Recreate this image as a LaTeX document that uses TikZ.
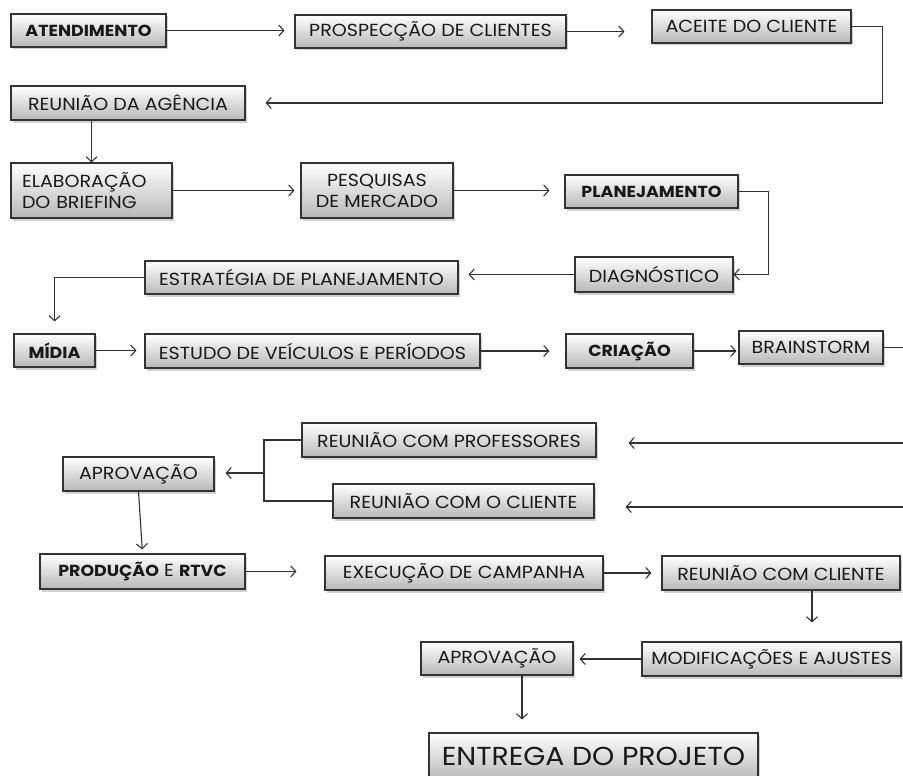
\documentclass[tikz,border=0pt]{standalone}
\usepackage{fontspec}
\setmainfont{Poppins}[FakeStretch=1.09]
\usetikzlibrary{arrows.meta,shadows,calc}
\newcommand\bfx[1]{{\fontsize{16}{21}\selectfont\bfseries #1}}
\begin{document}
\begin{tikzpicture}[x=1pt,y=-1pt,
  box/.style={draw=black!80, line width=1.1pt, top color=white, bottom color=black!28,
    drop shadow={shadow xshift=2pt,shadow yshift=-2.5pt,opacity=0.35},
    inner sep=0pt, font=\fontsize{17.5}{21}\selectfont, text=black!90},
  arr/.style={-{Straight Barb[length=5pt,width=11pt,line width=1.1pt]}, line width=1.1pt, draw=black!80},
  ln/.style={line width=1.1pt, draw=black!80}]
\useasboundingbox (0,0) rectangle (903,776);
\fill[white] (0,0) rectangle (903,776);
% nodes
\node[box, minimum width=155pt, minimum height=33pt] (aten) at (88.5,30.5) {\bfx{ATENDIMENTO}};
\node[box, minimum width=271pt, minimum height=33pt] (prosp) at (430.5,31.5) {PROSPECÇÃO DE CLIENTES};
\node[box, minimum width=199pt, minimum height=33pt] (aceite) at (751.5,26.5) {ACEITE DO CLIENTE};
\node[box, minimum width=234pt, minimum height=34pt] (reun) at (128,103) {REUNIÃO DA AGÊNCIA};
\node[box, minimum width=161pt, minimum height=55pt, align=left, text width=139pt] (elab) at (91.5,190.5) {ELABORAÇÃO\\DO BRIEFING};
\node[box, minimum width=152pt, minimum height=55pt, align=center] (pesq) at (377,190.5) {PESQUISAS\\DE MERCADO};
\node[box, minimum width=173pt, minimum height=33pt] (plan) at (651.5,191.5) {\bfx{PLANEJAMENTO}};
\node[box, minimum width=158pt, minimum height=35pt] (diag) at (654,274.5) {DIAGNÓSTICO};
\node[box, minimum width=313pt, minimum height=33pt] (estr) at (301.5,277.5) {ESTRATÉGIA DE PLANEJAMENTO};
\node[box, minimum width=81pt, minimum height=33pt] (midia) at (54.5,350.5) {\bfx{MÍDIA}};
\node[box, minimum width=335pt, minimum height=34pt] (estudo) at (312.5,351) {ESTUDO DE VEÍCULOS E PERÍODOS};
\node[box, minimum width=127pt, minimum height=34pt] (criacao) at (629.5,351) {\bfx{CRIAÇÃO}};
\node[box, minimum width=144pt, minimum height=33pt] (brain) at (811,347.5) {BRAINSTORM};
\node[box, minimum width=294pt, minimum height=34pt] (rprof) at (449,440) {REUNIÃO COM PROFESSORES};
\node[box, minimum width=261pt, minimum height=34pt] (rcli) at (463.5,501) {REUNIÃO COM O CLIENTE};
\node[box, minimum width=151pt, minimum height=34pt] (aprov1) at (138.5,474) {APROVAÇÃO};
\node[box, minimum width=205pt, minimum height=35pt] (prod) at (142.5,571.5) {\bfx{PRODUÇÃO} E \bfx{RTVC}};
\node[box, minimum width=278pt, minimum height=34pt] (exec) at (464,573) {EXECUÇÃO DE CAMPANHA};
\node[box, minimum width=238pt, minimum height=34pt] (rcc) at (781,573) {REUNIÃO COM CLIENTE};
\node[box, minimum width=259pt, minimum height=34pt] (modif) at (771.5,659) {MODIFICAÇÕES E AJUSTES};
\node[box, minimum width=152pt, minimum height=33pt] (aprov2) at (497,658.5) {APROVAÇÃO};
\node[box, minimum width=329pt, minimum height=47pt, font=\fontsize{26}{30}\selectfont] (entrega) at (593.5,756.5) {ENTREGA DO PROJETO};
% free ends at the right edge
\coordinate (e1) at (903,347.5);
\coordinate (e2) at (903,443);
\coordinate (e3) at (903,507);
\coordinate (bx) at (264,473);
% connectors
\draw[arr, shorten >=10pt] (aten.east) -- (aten.east -| prosp.west);
\draw[arr, shorten >=27pt] (prosp.east) -- (prosp.east -| aceite.west);
\draw[arr, shorten >=20pt] (aceite.east) -- ++(31,0) |- (reun.east);
\draw[arr] (elab.north |- reun.south) -- (elab.north);
\draw[arr, shorten >=6pt] (elab.east) -- (elab.east -| pesq.west);
\draw[arr, shorten >=15pt] (pesq.east) -- (pesq.east -| plan.west);
\draw[arr] (plan.east) -- ++(30,0) |- (diag.east);
\draw[arr, shorten >=10pt] (diag.west) -- (diag.west -| estr.east);
\draw[arr, shorten >=12pt] (estr.west) -| (midia.north);
\draw[arr, shorten >=8pt] (midia.east) -- (midia.east -| estudo.west);
\draw[arr, shorten >=16pt] (estudo.east) -- (estudo.east -| criacao.west);
\draw[arr, shorten >=2pt] (criacao.east) -- (criacao.east -| brain.west);
\draw[ln] (brain.east) -- (e1);
\draw[arr, shorten >=32pt] (e2) -- (e2 -| rprof.east);
\draw[arr, shorten >=31pt] (e3) -- (e3 -| rcli.east);
\draw[ln] (rprof.west) -| (bx) |- (rcli.west);
\draw[arr, shorten >=11pt] (bx) -- (bx -| aprov1.east);
\draw[arr, shorten >=4pt] (aprov1.south) -- (prod.north);
\draw[arr, shorten >=28pt] (prod.east) -- (prod.east -| exec.west);
\draw[arr, shorten >=10pt] (exec.east) -- (exec.east -| rcc.west);
\draw[arr, shorten >=19pt] ([xshift=31pt]rcc.south) -- ([xshift=31pt]rcc.south |- modif.north);
\draw[arr, shorten >=6pt] (modif.west) -- (modif.west -| aprov2.east);
\draw[arr, shorten >=13pt] ([xshift=25pt]aprov2.south) -- ([xshift=25pt]aprov2.south |- entrega.north);
\end{tikzpicture}
\end{document}
